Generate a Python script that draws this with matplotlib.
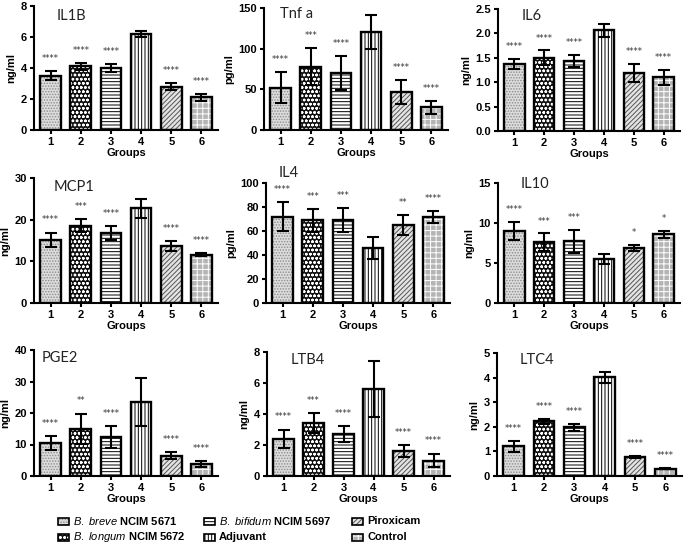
import matplotlib
matplotlib.use('Agg')
import matplotlib.pyplot as plt
from matplotlib.patches import Rectangle

plt.rcParams['font.family'] = ['Liberation Sans', 'DejaVu Sans']
plt.rcParams['mathtext.fontset'] = 'custom'
plt.rcParams['mathtext.it'] = 'Liberation Sans:italic'
plt.rcParams['mathtext.rm'] = 'Liberation Sans'
plt.rcParams['hatch.linewidth'] = 0.7

# Dados
grupos = [1, 2, 3, 4, 5, 6]
nomes_grupos = [r'$B.\ breve$ NCIM 5671', r'$B.\ longum$ NCIM 5672',
                r'$B.\ bifidum$ NCIM 5697', 'Adjuvant', 'Piroxicam', 'Control']

il1b = [3.5, 4.1, 4.0, 6.2, 2.8, 2.1]
il1b_err = [0.3, 0.25, 0.25, 0.2, 0.25, 0.25]
il1b_sig = ['****', '****', '****', '', '****', '****']

tnfa = [52, 78, 70, 120, 47, 28]
tnfa_err = [19, 23, 21, 21, 14.5, 8]
tnfa_sig = ['****', '***', '****', '', '****', '****']

il6 = [1.37, 1.5, 1.44, 2.06, 1.19, 1.1]
il6_err = [0.1, 0.15, 0.12, 0.14, 0.19, 0.16]
il6_sig = ['****', '****', '****', '', '****', '****']

mcp1 = [15.2, 18.6, 16.8, 22.7, 13.6, 11.6]
mcp1_err = [1.7, 1.6, 1.7, 2.3, 1.2, 0.3]
mcp1_sig = ['****', '***', '****', '', '****', '****']

il4 = [72, 69, 69, 46, 65, 72]
il4_err = [12, 9.5, 10, 9, 8.5, 5]
il4_sig = ['****', '***', '***', '', '**', '****']

il10 = [9.0, 7.6, 7.7, 5.5, 6.9, 8.6]
il10_err = [1.1, 1.1, 1.4, 0.6, 0.4, 0.45]
il10_sig = ['****', '***', '***', '', '*', '*']

pge2 = [10.5, 15.0, 12.3, 23.5, 6.5, 3.9]
pge2_err = [2.1, 4.8, 3.5, 7.5, 1.1, 0.9]
pge2_sig = ['****', '**', '****', '', '****', '****']

ltb4 = [2.4, 3.4, 2.7, 5.6, 1.6, 1.0]
ltb4_err = [0.6, 0.65, 0.5, 1.8, 0.4, 0.45]
ltb4_sig = ['****', '***', '****', '', '****', '****']

ltc4 = [1.2, 2.22, 1.98, 4.02, 0.78, 0.3]
ltc4_err = [0.22, 0.1, 0.15, 0.22, 0.03, 0.02]
ltc4_sig = ['****', '****', '****', '', '****', '****']

# (titulo, unidade, valores, erros, sig, yticks, formato)
paineis = [
    ('IL1B', 'ng/ml', il1b, il1b_err, il1b_sig, [0, 2, 4, 6, 8], None),
    ('Tnf a', 'pg/ml', tnfa, tnfa_err, tnfa_sig, [0, 50, 100, 150], None),
    ('IL6', 'ng/ml', il6, il6_err, il6_sig, [0, 0.5, 1.0, 1.5, 2.0, 2.5], '%.1f'),
    ('MCP1', 'ng/ml', mcp1, mcp1_err, mcp1_sig, [0, 10, 20, 30], None),
    ('IL4', 'pg/ml', il4, il4_err, il4_sig, [0, 20, 40, 60, 80, 100], None),
    ('IL10', 'ng/ml', il10, il10_err, il10_sig, [0, 5, 10, 15], None),
    ('PGE2', 'ng/ml', pge2, pge2_err, pge2_sig, [0, 10, 20, 30, 40], None),
    ('LTB4', 'ng/ml', ltb4, ltb4_err, ltb4_sig, [0, 2, 4, 6, 8], None),
    ('LTC4', 'ng/ml', ltc4, ltc4_err, ltc4_sig, [0, 1, 2, 3, 4, 5], None),
]

# estilos de preenchimento de cada grupo
estilos = [
    dict(fc='#dcdcdc', hc='#8c8c8c', hatch='......'),
    dict(fc='#111111', hc='white', hatch='oooo'),
    dict(fc='white', hc='black', hatch='-----'),
    dict(fc='white', hc='black', hatch='|||||'),
    dict(fc='#e4e4e4', hc='#555555', hatch='///////'),
    dict(fc='#b4b4b4', hc='white', hatch='+++'),
]

W, H = 685, 543
fig = plt.figure(figsize=(W / 100, H / 100), dpi=100)

# posicoes em pixels: (esquerda, direita, topo, base)
caixas = [
    (34, 218, 6, 130), (264, 448, 8, 130), (498, 680, 9, 131),
    (34, 218, 178, 303), (266, 450, 183, 303), (498, 680, 183, 303),
    (34, 218, 350, 476), (267, 450, 352, 476), (497, 682, 353, 476),
]
# posicao dos titulos em pixels (x esquerda, y centro)
pos_titulos = [(57, 16), (280, 14), (522, 16), (54, 187), (279, 173),
               (521, 184), (42, 358), (291, 360), (520, 360)]

for (titulo, unidade, vals, errs, sig, yt, fmt), (l, r, t, b), (tx, ty) in zip(paineis, caixas, pos_titulos):
    ax = fig.add_axes([l / W, 1 - b / H, (r - l) / W, (b - t) / H])
    for x, v, st in zip(grupos, vals, estilos):
        ax.bar(x, v, 0.68, color=st['fc'], edgecolor=st['hc'], hatch=st['hatch'], linewidth=0)
        ax.bar(x, v, 0.68, fill=False, edgecolor='black', linewidth=1.7)
    ax.errorbar(grupos, vals, yerr=errs, fmt='none', ecolor='black',
                elinewidth=1.5, capsize=4, capthick=1.5)
    ymax = yt[-1]
    for x, v, e, s in zip(grupos, vals, errs, sig):
        if s:
            ax.text(x, v + e + ymax * 0.065, s, ha='center', va='bottom',
                    fontsize=6, color='#333333', family='DejaVu Sans')
    ax.set_xlim(0.45, 6.55)
    ax.set_ylim(0, ymax)
    ax.set_yticks(yt)
    if fmt:
        ax.set_yticklabels([fmt % v for v in yt])
    ax.set_xticks(grupos)
    ax.spines['top'].set_visible(False)
    ax.spines['right'].set_visible(False)
    ax.spines['left'].set_linewidth(1.5)
    ax.spines['bottom'].set_linewidth(1.5)
    ax.tick_params(direction='out', length=3, width=1.5, labelsize=8, pad=2)
    for lab in ax.get_xticklabels() + ax.get_yticklabels():
        lab.set_fontweight('bold')
    ax.set_xlabel('Groups', fontsize=8, fontweight='bold', labelpad=1)
    ax.set_ylabel(unidade, fontsize=8, fontweight='bold', labelpad=3)
    fig.text(tx / W, 1 - ty / H, titulo, fontsize=10.5, family='Lato',
             ha='left', va='center', color='#222222')

# legenda manual
pos_leg = [(58, 521), (58, 537), (204, 521), (204, 537), (352, 521), (352, 537)]
for (px, py), nome, st in zip(pos_leg, nomes_grupos, estilos):
    ret = Rectangle((px / W, 1 - (py + 3.5) / H), 11 / W, 7 / H, transform=fig.transFigure,
                    facecolor=st['fc'], edgecolor=st['hc'], hatch=st['hatch'], linewidth=0)
    fig.add_artist(ret)
    borda = Rectangle((px / W, 1 - (py + 3.5) / H), 11 / W, 7 / H, transform=fig.transFigure,
                      fill=False, edgecolor='black', linewidth=1.2)
    fig.add_artist(borda)
    fig.text((px + 15) / W, 1 - py / H, nome, fontsize=8, fontweight='bold',
             ha='left', va='center')

fig.savefig('out.png', dpi=100)
